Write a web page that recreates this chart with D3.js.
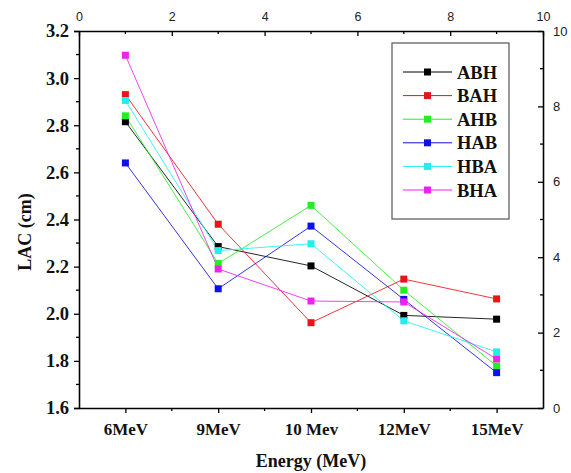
<!DOCTYPE html>
<html>
<head>
<meta charset="utf-8">
<script src="https://cdn.jsdelivr.net/npm/d3@7"></script>
<style>
  html, body { margin: 0; padding: 0; background: #fff; }
  svg { display: block; }
</style>
</head>
<body>
<svg id="chart" width="571" height="473"></svg>
<script>
// Energy categories and where they sit on the 0–10 secondary axis
const categories = ["6MeV", "9MeV", "10 Mev", "12MeV", "15MeV"];
const categoryPositions = [1, 3, 5, 7, 9];

// Linear attenuation coefficient per arrangement (cm)
const seriesNames = ["ABH", "BAH", "AHB", "HAB", "HBA", "BHA"];
const ABH = [2.815, 2.285, 2.203, 1.993, 1.977];
const BAH = [2.930, 2.380, 1.962, 2.147, 2.063];
const AHB = [2.840, 2.213, 2.460, 2.100, 1.778];
const HAB = [2.640, 2.106, 2.372, 2.061, 1.750];
const HBA = [2.905, 2.268, 2.297, 1.970, 1.838];
const BHA = [3.097, 2.190, 2.054, 2.050, 1.808];
const seriesColors = ["#000000", "#e8141a", "#22ee22", "#1010e8", "#22eeee", "#ee22ee"];

const leftTicks = [1.6, 1.8, 2.0, 2.2, 2.4, 2.6, 2.8, 3.0, 3.2];
const rightTicks = [0, 2, 4, 6, 8, 10];
const topTicks = [0, 2, 4, 6, 8, 10];

const series = [ABH, BAH, AHB, HAB, HBA, BHA].map((vals, i) => ({
  name: seriesNames[i],
  color: seriesColors[i],
  points: vals.map((v, j) => ({ x: categoryPositions[j], y: v }))
}));

const svg = d3.select("#chart");
const plot = { left: 79, right: 543, top: 31, bottom: 408 };

const x = d3.scaleLinear().domain([0, 10]).range([plot.left, plot.right]);
const y = d3.scaleLinear().domain([1.6, 3.2]).range([plot.bottom, plot.top]);
const yRight = d3.scaleLinear().domain([0, 10]).range([plot.bottom, plot.top]);

const serif = "'Liberation Serif', 'Times New Roman', serif";
const sans = "'Liberation Sans', Arial, sans-serif";

function styleAxis(g) {
  g.select(".domain").attr("stroke", "#000").attr("stroke-width", 1.6);
  g.selectAll(".tick line").attr("stroke", "#000").attr("stroke-width", 1.3);
}

// minor tick helper
function minorTicks(g, values, scale, orient, len) {
  g.selectAll(null).data(values).enter().append("line")
    .attr("stroke", "#000").attr("stroke-width", 1.3)
    .each(function (d) {
      const s = d3.select(this);
      const p = scale(d);
      if (orient === "left") s.attr("x1", 0).attr("x2", -len).attr("y1", p).attr("y2", p);
      if (orient === "right") s.attr("x1", 0).attr("x2", len).attr("y1", p).attr("y2", p);
      if (orient === "bottom") s.attr("x1", p).attr("x2", p).attr("y1", 0).attr("y2", len);
      if (orient === "top") s.attr("x1", p).attr("x2", p).attr("y1", 0).attr("y2", len);
    });
}

// Left axis (LAC)
const gLeft = svg.append("g").attr("transform", `translate(${plot.left},0)`)
  .call(d3.axisLeft(y).tickValues(leftTicks).tickSize(5).tickPadding(5).tickFormat(d3.format(".1f")));
styleAxis(gLeft);
gLeft.selectAll("text").attr("font-family", serif).attr("font-weight", "bold")
  .attr("font-size", 18.5).attr("fill", "#111");
minorTicks(gLeft, d3.range(1.7, 3.2, 0.2), y, "left", 3);

// Right axis (secondary 0–10), ticks pointing inward
const gRight = svg.append("g").attr("transform", `translate(${plot.right},0)`)
  .call(d3.axisRight(yRight).tickValues(rightTicks).tickSizeInner(-5).tickSizeOuter(0).tickPadding(10));
styleAxis(gRight);
gRight.selectAll("text").attr("font-family", sans).attr("font-size", 13).attr("fill", "#222");
minorTicks(gRight, [1, 3, 5, 7, 9], yRight, "right", -3);

// Bottom axis with energy labels
const gBottom = svg.append("g").attr("transform", `translate(0,${plot.bottom})`)
  .call(d3.axisBottom(x).tickValues(categoryPositions).tickSize(5).tickSizeOuter(0).tickPadding(10)
    .tickFormat((d, i) => categories[i]));
styleAxis(gBottom);
gBottom.selectAll("text").attr("font-family", serif).attr("font-weight", "bold")
  .attr("font-size", 17).attr("fill", "#111");
minorTicks(gBottom, [2, 4, 6, 8], x, "bottom", 3);

// Top axis (secondary 0–10), ticks pointing inward
const gTop = svg.append("g").attr("transform", `translate(0,${plot.top})`)
  .call(d3.axisTop(x).tickValues(topTicks).tickSizeInner(-5).tickSizeOuter(0).tickPadding(10));
styleAxis(gTop);
gTop.selectAll("text").attr("font-family", sans).attr("font-size", 12.5).attr("fill", "#222");
minorTicks(gTop, [1, 3, 5, 7, 9], x, "top", 3);

// Axis titles
svg.append("text")
  .attr("x", (plot.left + plot.right) / 2).attr("y", 467)
  .attr("text-anchor", "middle")
  .attr("font-family", serif).attr("font-weight", "bold").attr("font-size", 18)
  .attr("fill", "#111").text("Energy (MeV)");

svg.append("text")
  .attr("transform", "translate(31,232) rotate(-90)")
  .attr("text-anchor", "middle")
  .attr("font-family", serif).attr("font-weight", "bold").attr("font-size", 18)
  .attr("fill", "#111").text("LAC (cm)");

// Series lines and square markers
const line = d3.line().x(d => x(d.x)).y(d => y(d.y));
const gSeries = svg.append("g");
series.forEach(s => {
  gSeries.append("path").datum(s.points)
    .attr("d", line).attr("fill", "none")
    .attr("stroke", s.color).attr("stroke-width", 1).attr("opacity", 0.85);
});
const msize = 7;
series.forEach(s => {
  gSeries.selectAll(null).data(s.points).enter().append("rect")
    .attr("x", d => x(d.x) - msize / 2).attr("y", d => y(d.y) - msize / 2)
    .attr("width", msize).attr("height", msize).attr("fill", s.color);
});

// Legend
const legend = { left: 392, top: 43, right: 509, bottom: 219 };
svg.append("rect")
  .attr("x", legend.left).attr("y", legend.top)
  .attr("width", legend.right - legend.left).attr("height", legend.bottom - legend.top)
  .attr("fill", "#fff").attr("stroke", "#555").attr("stroke-width", 1.2);

const rowY = d3.scalePoint().domain(seriesNames).range([72, 190]);
const gLegend = svg.append("g");
series.forEach(s => {
  const yy = rowY(s.name);
  gLegend.append("line").attr("x1", 403).attr("x2", 452).attr("y1", yy).attr("y2", yy)
    .attr("stroke", s.color).attr("stroke-width", 1);
  gLegend.append("rect").attr("x", 427.5 - msize / 2).attr("y", yy - msize / 2)
    .attr("width", msize).attr("height", msize).attr("fill", s.color);
  gLegend.append("text").attr("x", 457).attr("y", yy + 6.5)
    .attr("font-family", serif).attr("font-weight", "bold").attr("font-size", 18.5)
    .attr("fill", "#111").text(s.name);
});
</script>
</body>
</html>
